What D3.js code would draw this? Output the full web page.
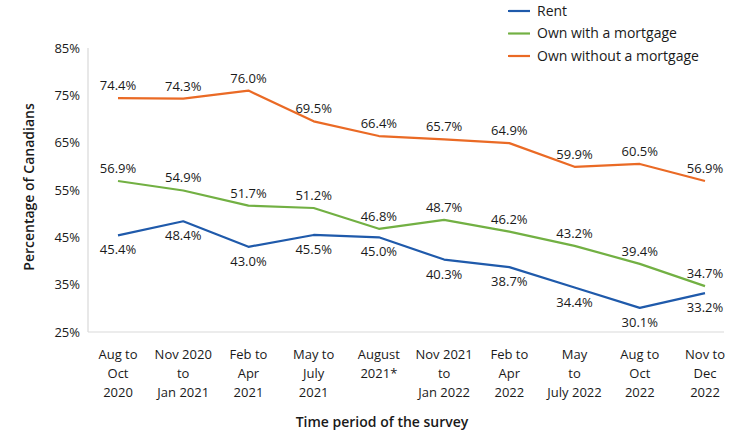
<!DOCTYPE html>
<html>
<head>
<meta charset="utf-8">
<style>
  body { margin: 0; background: #fff; }
  svg text { font-family: "Open Sans", sans-serif; fill: #1a1a1a; }
  .series { fill: none; stroke-width: 2.2px; stroke-linejoin: round; }
  .axisline { stroke: #d9d9d9; stroke-width: 1.2px; }
</style>
</head>
<body>
<svg width="754" height="435"></svg>
<script src="https://d3js.org/d3.v7.min.js"></script>
<script>
const periods = [
  ["Aug to", "Oct", "2020"],
  ["Nov 2020", "to", "Jan 2021"],
  ["Feb to", "Apr", "2021"],
  ["May to", "July", "2021"],
  ["August", "2021*"],
  ["Nov 2021", "to", "Jan 2022"],
  ["Feb to", "Apr", "2022"],
  ["May", "to", "July 2022"],
  ["Aug to", "Oct", "2022"],
  ["Nov to", "Dec", "2022"]
];
const rent = [45.4, 48.4, 43.0, 45.5, 45.0, 40.3, 38.7, 34.4, 30.1, 33.2];
const ownMortgage = [56.9, 54.9, 51.7, 51.2, 46.8, 48.7, 46.2, 43.2, 39.4, 34.7];
const ownNoMortgage = [74.4, 74.3, 76.0, 69.5, 66.4, 65.7, 64.9, 59.9, 60.5, 56.9];
const yTicks = [25, 35, 45, 55, 65, 75, 85];

const series = [
  { name: "Rent", values: rent, color: "#1f5aab", pos: "below" },
  { name: "Own with a mortgage", values: ownMortgage, color: "#72b043", pos: "above" },
  { name: "Own without a mortgage", values: ownNoMortgage, color: "#ea6a25", pos: "above" }
];

const svg = d3.select("svg");
const x = d3.scalePoint()
  .domain(d3.range(periods.length))
  .range([118, 705]);
const y = d3.scaleLinear()
  .domain([25, 85])
  .range([332, 48]);

// axis lines
svg.append("line").attr("class", "axisline")
  .attr("x1", 88).attr("x2", 88).attr("y1", 48).attr("y2", 332);
svg.append("line").attr("class", "axisline")
  .attr("x1", 88).attr("x2", 724).attr("y1", 332).attr("y2", 332);

// y tick labels
svg.append("g").selectAll("text")
  .data(yTicks)
  .join("text")
  .attr("x", 80)
  .attr("y", d => y(d))
  .attr("dy", "0.35em")
  .attr("text-anchor", "end")
  .attr("font-size", 13)
  .text(d => d + "%");

// x tick labels
const xl = svg.append("g").selectAll("text")
  .data(periods)
  .join("text")
  .attr("text-anchor", "middle")
  .attr("font-size", 13)
  .attr("transform", (d, i) => `translate(${x(i)},359)`);
xl.selectAll("tspan")
  .data(d => d)
  .join("tspan")
  .attr("x", 0)
  .attr("y", (d, i) => i * 19)
  .text(d => d);

// axis titles
svg.append("text")
  .attr("transform", "translate(34,187) rotate(-90)")
  .attr("text-anchor", "middle")
  .attr("font-size", 14)
  .attr("font-weight", 600)
  .text("Percentage of Canadians");
svg.append("text")
  .attr("x", 382).attr("y", 427)
  .attr("text-anchor", "middle")
  .attr("font-size", 14)
  .attr("font-weight", 600)
  .text("Time period of the survey");

// lines and data labels
const line = d3.line()
  .x((d, i) => x(i))
  .y(d => y(d));

series.forEach(s => {
  svg.append("path")
    .attr("class", "series")
    .attr("stroke", s.color)
    .datum(s.values)
    .attr("d", line);
  svg.append("g").selectAll("text")
    .data(s.values)
    .join("text")
    .attr("x", (d, i) => x(i))
    .attr("y", d => s.pos === "above" ? y(d) - 8 : y(d) + 19)
    .attr("text-anchor", "middle")
    .attr("font-size", 13)
    .text(d => d.toFixed(1) + "%");
});

// legend
const lg = svg.append("g").selectAll("g")
  .data(series)
  .join("g")
  .attr("transform", (d, i) => `translate(508,${11 + i * 22.5})`);
lg.append("line")
  .attr("x1", 0).attr("x2", 22)
  .attr("stroke", d => d.color)
  .attr("stroke-width", 2.2);
lg.append("text")
  .attr("x", 29)
  .attr("dy", "0.35em")
  .attr("font-size", 14)
  .text(d => d.name);
</script>
</body>
</html>
